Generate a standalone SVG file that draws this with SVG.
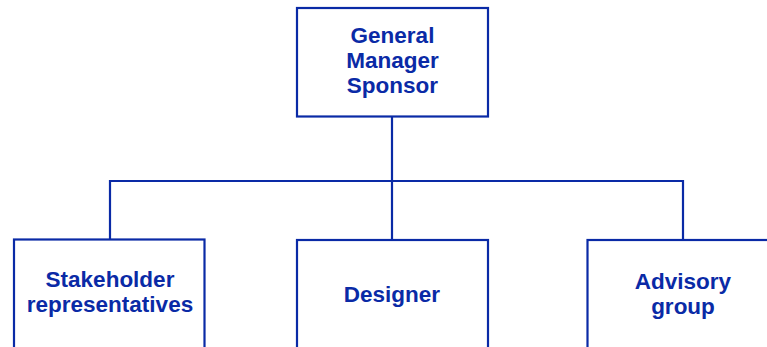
<svg xmlns="http://www.w3.org/2000/svg" width="767" height="347" viewBox="0 0 767 347">
<style>
.box{fill:#fff;stroke:#0a2aa6;stroke-width:2.2}
.ln{fill:none;stroke:#0a2aa6;stroke-width:2.2}
.t{font-family:"Liberation Sans",Arial,sans-serif;font-weight:bold;font-size:22.5px;fill:#0a2aa6;text-anchor:middle}
</style>
<rect width="767" height="347" fill="#fff"/>
<g id="connectors">
<path class="ln" d="M392 117 V181 M110 181 H683 M110 180 V240 M392 181 V240 M683 180 V240"/>
</g>
<g id="gm">
<rect class="box" x="297" y="8" width="191" height="108.5"/>
<text class="t" x="392.5" y="43">General</text>
<text class="t" x="392.5" y="68">Manager</text>
<text class="t" x="392.5" y="93">Sponsor</text>
</g>
<g id="stakeholder">
<rect class="box" x="14" y="239.5" width="190.5" height="130"/>
<text class="t" x="110" y="287">Stakeholder</text>
<text class="t" x="110" y="312">representatives</text>
</g>
<g id="designer">
<rect class="box" x="297" y="240" width="191" height="130"/>
<text class="t" x="392" y="302">Designer</text>
</g>
<g id="advisory">
<rect class="box" x="587.5" y="240" width="200" height="130"/>
<text class="t" x="683" y="288.5">Advisory</text>
<text class="t" x="683" y="314">group</text>
</g>
</svg>
